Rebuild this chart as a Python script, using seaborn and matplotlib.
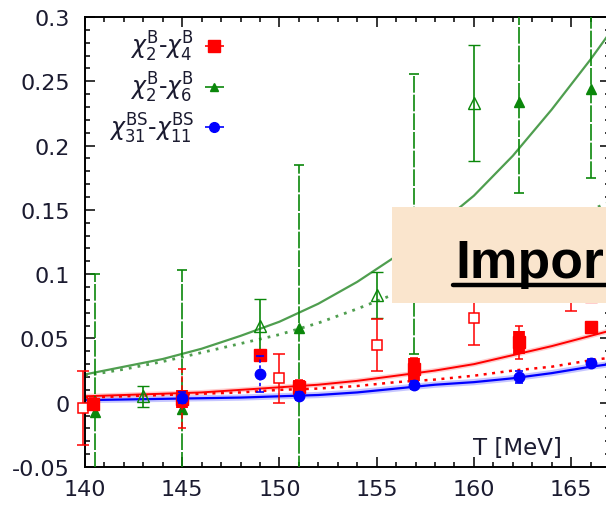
import numpy as np
import pandas as pd
import matplotlib
matplotlib.use("Agg")
import matplotlib.pyplot as plt
import seaborn as sns
from matplotlib.patches import Rectangle
from matplotlib.lines import Line2D
from matplotlib.legend_handler import HandlerErrorbar

# ---------------- data ----------------
# chi2^B - chi4^B, filled squares
red_f_T = [140.4, 145.0, 149.0, 151.0, 156.9, 162.3, 166.0, 166.0]
red_f_v = [-0.001, 0.003, 0.037, 0.012, 0.026, 0.047, 0.059, 0.083]
red_f_box = [0.005, 0.007, 0.004, 0.006, 0.009, 0.009, 0.004, 0.004]
red_f_err = [0.005, 0.023, 0.004, 0.006, 0.009, 0.013, 0.004, 0.004]
# chi2^B - chi4^B, open squares
red_o_T = [139.9, 150.0, 155.0, 160.0, 165.0]
red_o_v = [-0.004, 0.019, 0.045, 0.066, 0.092]
red_o_err = [0.029, 0.019, 0.020, 0.021, 0.021]
# chi2^B - chi6^B, filled triangles
grn_f_T = [140.5, 145.0, 151.0, 156.9, 162.3, 166.0]
grn_f_v = [-0.007, -0.005, 0.058, 0.147, 0.234, 0.244]
grn_f_err = [0.107, 0.108, 0.127, 0.109, 0.071, 0.069]
# chi2^B - chi6^B, open triangles
grn_o_T = [143.0, 149.0, 155.0, 160.0]
grn_o_v = [0.005, 0.060, 0.084, 0.233]
grn_o_err = [0.008, 0.021, 0.018, 0.045]
# chi31^BS - chi11^BS, circles
blu_T = [145.0, 149.0, 151.0, 156.9, 162.3, 166.0]
blu_v = [0.004, 0.022, 0.005, 0.014, 0.020, 0.031]
blu_err = [0.004, 0.014, 0.003, 0.003, 0.005, 0.003]

# curves (every 2 MeV)
curve_T = [140, 142, 144, 146, 148, 150, 152, 154, 156, 158, 160, 162, 164, 166, 167]
grn_solid_v = [0.022, 0.028, 0.034, 0.042, 0.052, 0.063, 0.077, 0.094, 0.114, 0.136,
               0.161, 0.192, 0.228, 0.267, 0.288]
grn_dot_v = [0.021, 0.026, 0.032, 0.039, 0.046, 0.053, 0.062, 0.073, 0.085, 0.098,
             0.110, 0.124, 0.138, 0.150, 0.156]
red_solid_v = [0.005, 0.006, 0.007, 0.008, 0.010, 0.012, 0.014, 0.017, 0.021, 0.025,
               0.030, 0.037, 0.044, 0.052, 0.056]
red_dot_v = [0.004, 0.005, 0.006, 0.007, 0.008, 0.010, 0.011, 0.013, 0.016, 0.018,
             0.021, 0.025, 0.028, 0.033, 0.035]
blu_solid_v = [0.002, 0.0025, 0.003, 0.0035, 0.004, 0.005, 0.006, 0.008, 0.011, 0.014,
               0.016, 0.019, 0.023, 0.028, 0.030]

labels = [r"$\chi_2^\mathrm{B}$-$\chi_4^\mathrm{B}$", r"$\chi_2^\mathrm{B}$-$\chi_6^\mathrm{B}$",
          r"$\chi_{31}^\mathrm{BS}$-$\chi_{11}^\mathrm{BS}$"]
x_ticks = [140, 145, 150, 155, 160, 165]
y_ticks = [-0.05, 0, 0.05, 0.1, 0.15, 0.2, 0.25, 0.3]
y_ticklabels = ["-0.05", "0", "0.05", "0.1", "0.15", "0.2", "0.25", "0.3"]
overlay_text = "Impor"

RED = "#ff0000"
GRN = "#0a870a"
GRN_C = "#4f9e4f"
BLU = "#0000ff"
TXT = "#1b1b30"

# ---------------- style ----------------
sns.set_theme(style="ticks")
plt.rcParams["font.family"] = ["DejaVu Sans"]
plt.rcParams["mathtext.fontset"] = "dejavusans"

fig = plt.figure(figsize=(6.06, 5.06), dpi=100)
fig.patch.set_facecolor("white")
ax = fig.add_axes([85 / 606, 38 / 506, 525 / 606, 450 / 506])
ax.set_facecolor("white")

# ---------------- curves ----------------
cdf = pd.DataFrame({"T": curve_T, "gs": grn_solid_v, "gd": grn_dot_v,
                    "rs": red_solid_v, "rd": red_dot_v, "bs": blu_solid_v})
sns.lineplot(data=cdf, x="T", y="bs", ax=ax, color="#8f8fff", lw=4.5, alpha=0.5, estimator=None)
sns.lineplot(data=cdf, x="T", y="bs", ax=ax, color=BLU, lw=1.6, estimator=None)
sns.lineplot(data=cdf, x="T", y="rs", ax=ax, color="#ff9a9a", lw=3.5, alpha=0.5, estimator=None)
sns.lineplot(data=cdf, x="T", y="rs", ax=ax, color=RED, lw=1.4, estimator=None)
sns.lineplot(data=cdf, x="T", y="rd", ax=ax, color=RED, lw=1.8, estimator=None,
             linestyle=(0, (1.2, 2.2)))
sns.lineplot(data=cdf, x="T", y="gs", ax=ax, color=GRN_C, lw=1.6, estimator=None)
sns.lineplot(data=cdf, x="T", y="gd", ax=ax, color=GRN_C, lw=2.0, estimator=None,
             linestyle=(0, (1.0, 2.2)))

# ---------------- error bars & markers ----------------
eb = ax.errorbar(grn_f_T, grn_f_v, yerr=grn_f_err, fmt="^", color=GRN, ms=7.5,
                 elinewidth=1.2, capsize=3.5, capthick=1.2, zorder=4)
eb[2][0].set_linestyle((0, (10, 1.2)))
ax.errorbar(grn_o_T, grn_o_v, yerr=grn_o_err, fmt="^", color=GRN, mfc="none", mec=GRN,
            ms=8, mew=1.0, elinewidth=1.2, capsize=4, capthick=1.2, zorder=4)
ebo = ax.errorbar(red_o_T, red_o_v, yerr=red_o_err, fmt="s", color=RED, mfc="white", mec=RED,
                  ms=7.5, mew=1.1, elinewidth=1.1, capsize=4.5, capthick=1.1, zorder=5)
for art in [ebo[0], *ebo[1], *ebo[2]]:
    art.set_clip_on(False)
ebr = ax.errorbar(red_f_T, red_f_v, yerr=red_f_err, fmt="none", ecolor=RED,
                  elinewidth=1.1, capsize=3, capthick=1.1, zorder=5)
ebr[2][0].set_linestyle((0, (4, 2)))
ax.errorbar(red_f_T, red_f_v, yerr=red_f_box, fmt="s", color=RED, ms=9,
            elinewidth=8.5, capsize=0, zorder=6)
ebb = ax.errorbar(blu_T, blu_v, yerr=blu_err, fmt="o", color=BLU, ms=7.5,
                  elinewidth=1.2, capsize=3, capthick=1.2, zorder=7)
ebb[2][0].set_linestyle((0, (2, 1.5)))

# ---------------- axes ----------------
ax.set_xlim(140, 167)
ax.set_ylim(-0.05, 0.3)
ax.set_xticks(x_ticks)
ax.set_xticklabels([str(t) for t in x_ticks])
ax.set_yticks(y_ticks)
ax.set_yticklabels(y_ticklabels)
ax.set_xticks(np.arange(140, 168, 1), minor=True)
ax.set_yticks(np.arange(-0.05, 0.3001, 0.01), minor=True)
ax.tick_params(which="both", direction="in", top=True, right=True, colors="black",
               labelcolor=TXT, labelsize=16, width=1.1)
ax.tick_params(which="major", length=7)
ax.tick_params(which="minor", length=3.5)
ax.tick_params(axis="y", which="major", pad=11)
ax.tick_params(axis="x", which="major", pad=9)
ax.set_xlabel("")
ax.set_ylabel("")
for s in ax.spines.values():
    s.set_linewidth(1.4)
    s.set_color("black")
ax.text(0.823, 0.044, "T [MeV]", transform=ax.transAxes, ha="center", va="center",
        fontsize=16.5, color=TXT)

# ---------------- legend ----------------
h1 = ax.errorbar([], [], xerr=[], fmt="s", color=RED, ms=9, capsize=3, elinewidth=1.2)
h2 = ax.errorbar([], [], xerr=[], fmt="^", color=GRN, ms=6, capsize=3, elinewidth=1.2)
h3 = ax.errorbar([], [], xerr=[], fmt="o", color=BLU, ms=7, capsize=3, elinewidth=1.2)
leg = ax.legend([h1, h2, h3], labels, loc="upper left", bbox_to_anchor=(0.005, 1.02),
                frameon=False, markerfirst=False, fontsize=17, handlelength=0.9,
                handletextpad=0.4, labelspacing=0.28, numpoints=1,
                handler_map={type(h1): HandlerErrorbar(xerr_size=0.4)})
for t in leg.get_texts():
    t.set_color(TXT)

# ---------------- slide overlay box ----------------
fig.add_artist(Rectangle((392 / 606, 1 - 304 / 506), (620 - 392) / 606, 96 / 506,
                         transform=fig.transFigure, facecolor="#fae5cd", edgecolor="none",
                         zorder=10))
fig.text(455 / 606, 1 - 278 / 506, overlay_text, fontsize=38.5, fontweight="bold",
         family=["Liberation Sans", "DejaVu Sans"], va="baseline", ha="left",
         color="black", zorder=11)
fig.add_artist(Line2D([453 / 606, 1.02], [1 - 286 / 506, 1 - 286 / 506], lw=3.2,
                      color="black", transform=fig.transFigure, zorder=11))

fig.savefig("out.png", dpi=100)
